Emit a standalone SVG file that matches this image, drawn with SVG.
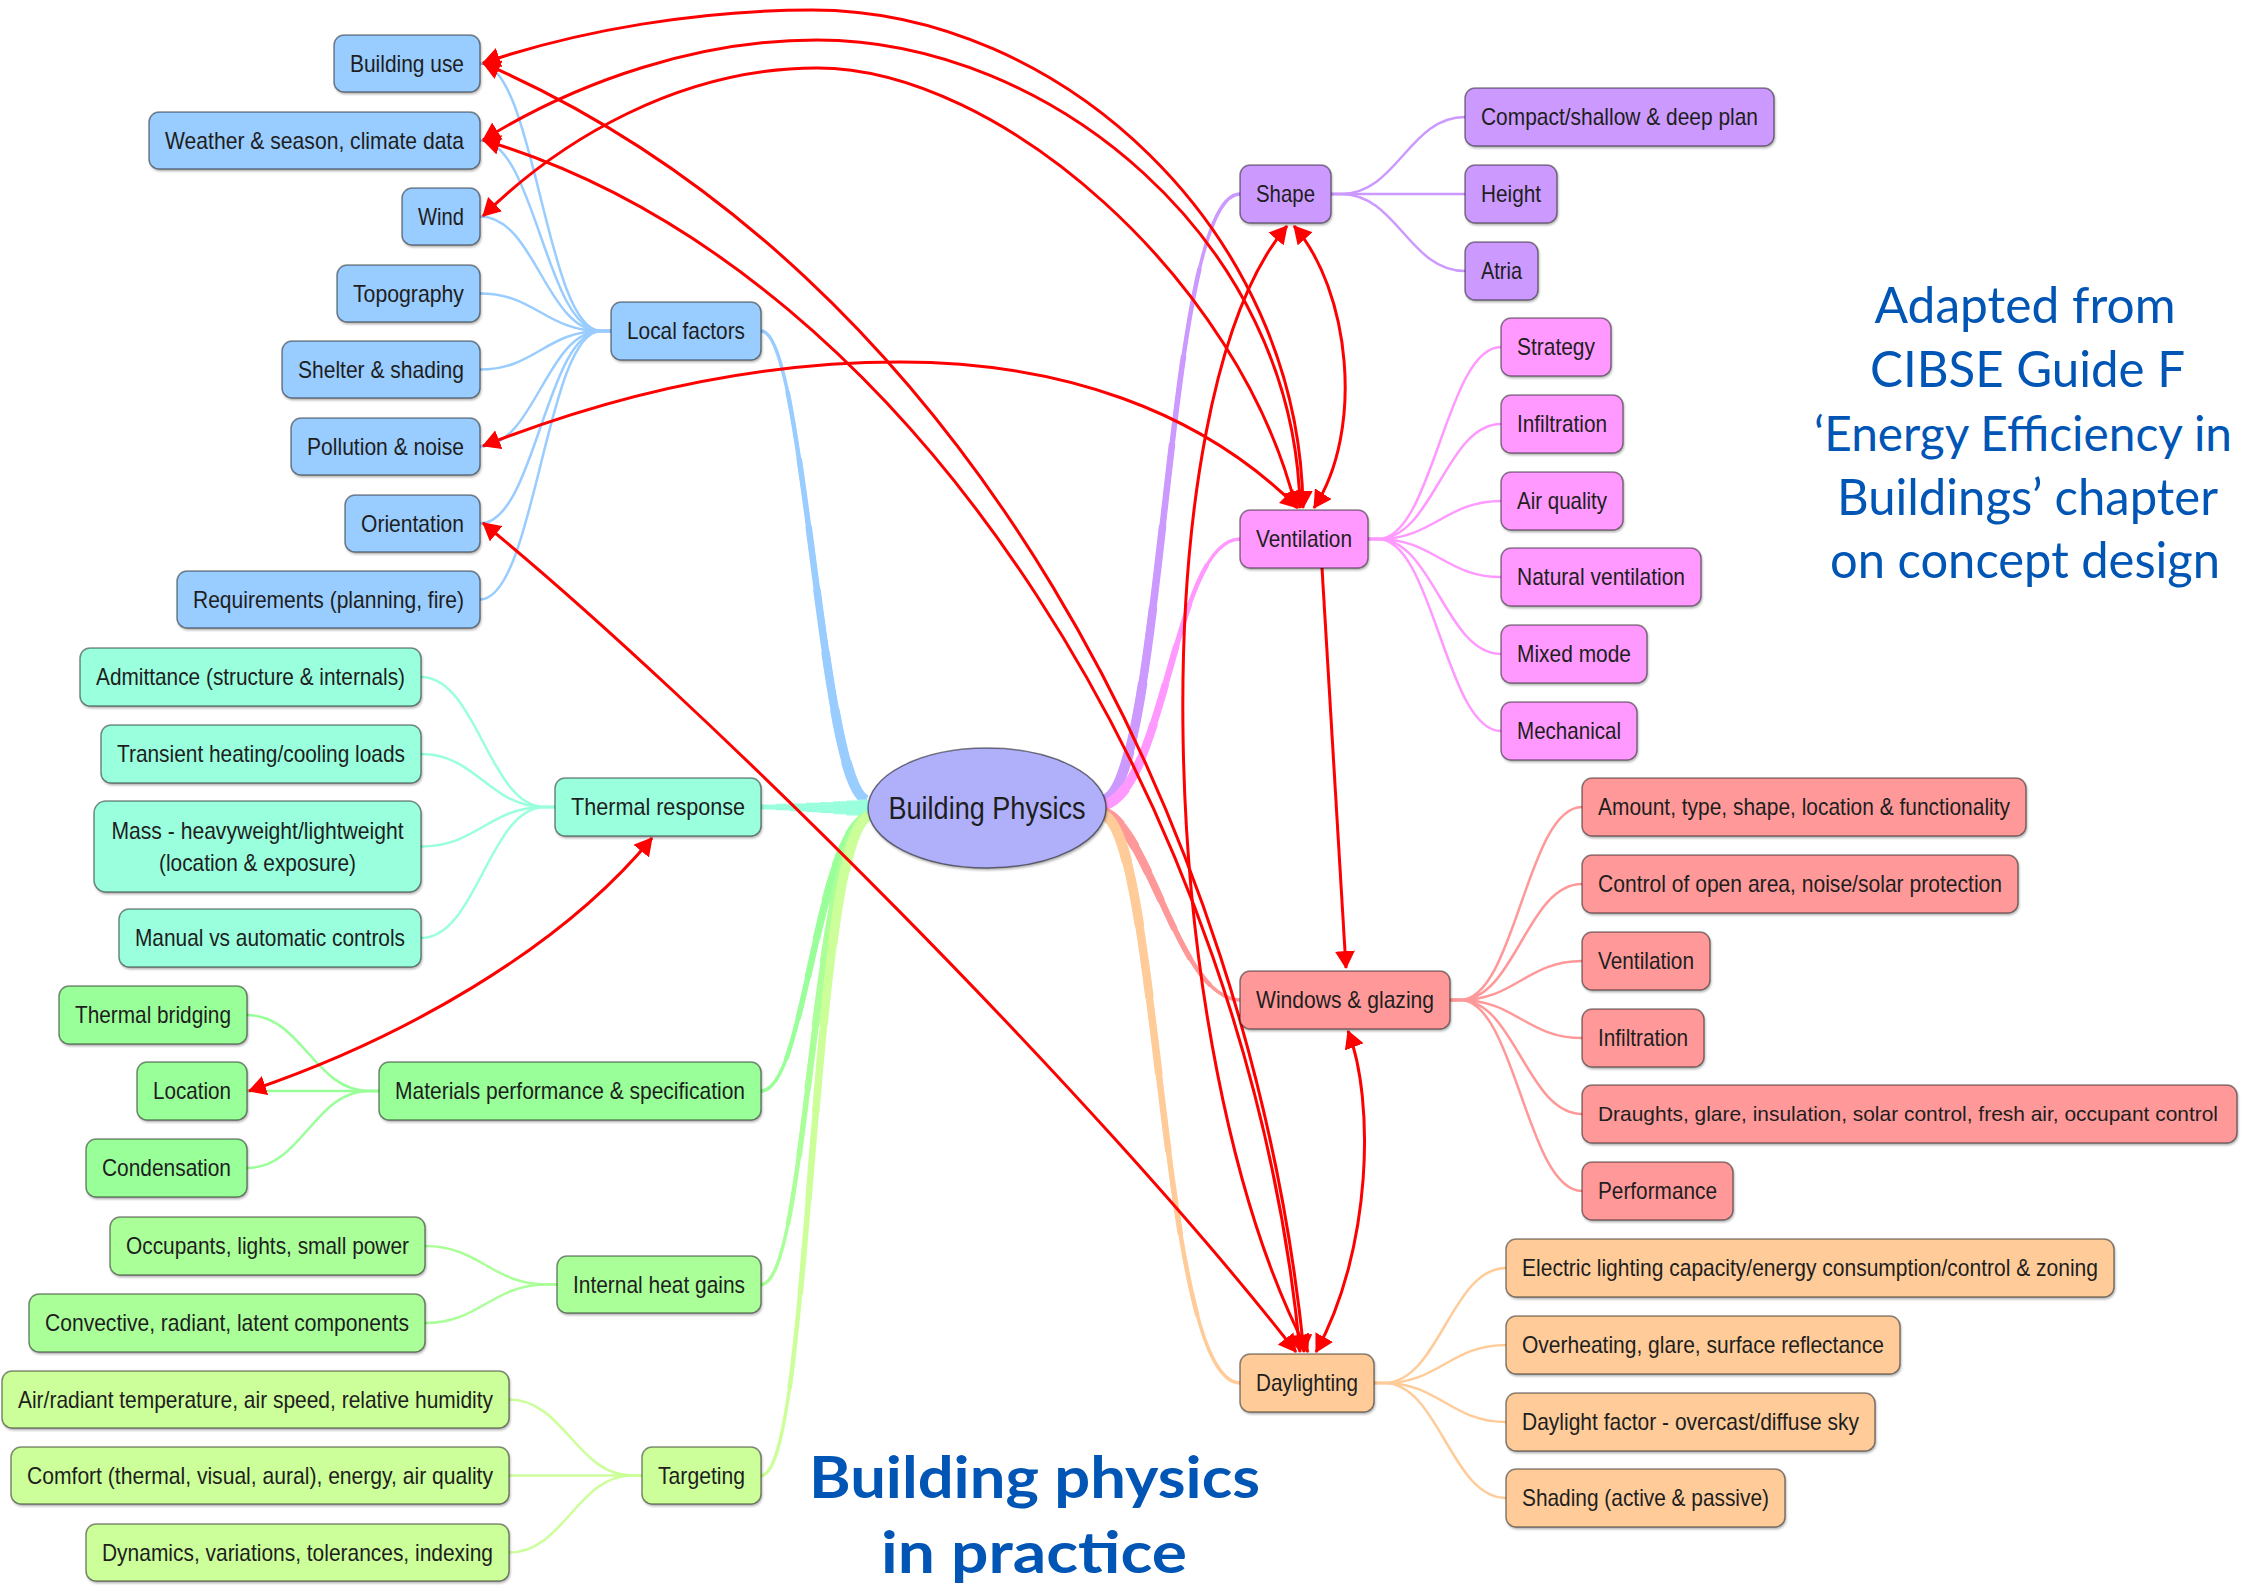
<svg xmlns="http://www.w3.org/2000/svg" xmlns:xlink="http://www.w3.org/1999/xlink" width="2246" height="1588" viewBox="0 0 2246 1588">
<style>
.nd rect{stroke:#000;stroke-opacity:.45;stroke-width:1.5;filter:url(#sh)}
.nd text{font-family:"Liberation Sans",Arial,sans-serif;font-size:24px;fill:#1e1e1e;text-anchor:middle}
.cb rect{fill:#99ccff}.ct rect{fill:#99ffdd}.cg rect{fill:#99ff99}.ci rect{fill:#aaff99}.cy rect{fill:#ccff99}
.cp rect{fill:#cc99ff}.cm rect{fill:#ff99ff}.cr rect{fill:#ff9999}.co rect{fill:#ffcc99}
.br path{fill:none;stroke-width:2.5}
.main use{fill:none}
.w1{stroke-width:3.5}
.w2{stroke-width:4.5;stroke-dasharray:86 300}
.w3{stroke-width:5.5;stroke-dasharray:72 300}
.w4{stroke-width:6.5;stroke-dasharray:58 300}
.w5{stroke-width:7.5;stroke-dasharray:45 300}
.w6{stroke-width:8.5;stroke-dasharray:32 300}
.w7{stroke-width:9.5;stroke-dasharray:20 300}
.w8{stroke-width:10.5;stroke-dasharray:9 300}
.big .w1{stroke-width:5}.big .w2{stroke-width:6.5}.big .w3{stroke-width:8}.big .w4{stroke-width:9.5}
.big .w5{stroke-width:11}.big .w6{stroke-width:13}.big .w7{stroke-width:15}.big .w8{stroke-width:17}
.lk path{fill:none;stroke:#ff0000;stroke-width:3}
.bi{marker-start:url(#ah);marker-end:url(#ah)}
.uni{marker-end:url(#ah)}
.tt{font-family:Lato,"Open Sans",sans-serif;fill:#0055b5;text-anchor:middle}
</style>
<defs>
<filter id="sh" x="-10%" y="-20%" width="120%" height="150%"><feDropShadow dx="1" dy="2" stdDeviation="1.2" flood-color="#000" flood-opacity="0.3"/></filter>
<marker id="ah" viewBox="0 0 18 20" refX="17" refY="10" markerWidth="18" markerHeight="20" markerUnits="userSpaceOnUse" orient="auto-start-reverse"><path d="M0,0 L18,10 L0,20 z" fill="#ff0000"/></marker>
<path id="m-lf" pathLength="100" d="M866,800 C820,780 805,331 761,331"/>
<path id="m-th" pathLength="100" d="M868,808 C830,808 800,807 761,807"/>
<path id="m-mp" pathLength="100" d="M868,816 C815,840 805,1091 761,1091"/>
<path id="m-ih" pathLength="100" d="M868,816 C812,845 808,1284.5 761,1284.5"/>
<path id="m-tg" pathLength="100" d="M868,816 C810,850 812,1475.5 761,1475.5"/>
<path id="m-sh" pathLength="100" d="M1104,800 C1165,780 1165,194 1240,194"/>
<path id="m-ve" pathLength="100" d="M1104,805 C1165,790 1175,539 1240,539"/>
<path id="m-wg" pathLength="100" d="M1104,812 C1150,830 1180,1000 1240,1000"/>
<path id="m-dl" pathLength="100" d="M1104,815 C1160,840 1160,1383 1240,1383"/>
</defs>
<rect width="2246" height="1588" fill="#ffffff"/>

<g id="branches">
<g class="main" stroke="#99ccff"><use href="#m-lf" class="w1"/><use href="#m-lf" class="w2"/><use href="#m-lf" class="w3"/><use href="#m-lf" class="w4"/><use href="#m-lf" class="w5"/><use href="#m-lf" class="w6"/><use href="#m-lf" class="w7"/><use href="#m-lf" class="w8"/></g>
<g class="main big" stroke="#99ffdd"><use href="#m-th" class="w1"/><use href="#m-th" class="w2"/><use href="#m-th" class="w3"/><use href="#m-th" class="w4"/><use href="#m-th" class="w5"/><use href="#m-th" class="w6"/><use href="#m-th" class="w7"/><use href="#m-th" class="w8"/></g>
<g class="main" stroke="#99ff99"><use href="#m-mp" class="w1"/><use href="#m-mp" class="w2"/><use href="#m-mp" class="w3"/><use href="#m-mp" class="w4"/><use href="#m-mp" class="w5"/><use href="#m-mp" class="w6"/><use href="#m-mp" class="w7"/><use href="#m-mp" class="w8"/></g>
<g class="main" stroke="#aaff99"><use href="#m-ih" class="w1"/><use href="#m-ih" class="w2"/><use href="#m-ih" class="w3"/><use href="#m-ih" class="w4"/><use href="#m-ih" class="w5"/><use href="#m-ih" class="w6"/><use href="#m-ih" class="w7"/><use href="#m-ih" class="w8"/></g>
<g class="main" stroke="#ccff99"><use href="#m-tg" class="w1"/><use href="#m-tg" class="w2"/><use href="#m-tg" class="w3"/><use href="#m-tg" class="w4"/><use href="#m-tg" class="w5"/><use href="#m-tg" class="w6"/><use href="#m-tg" class="w7"/><use href="#m-tg" class="w8"/></g>
<g class="main" stroke="#cc99ff"><use href="#m-sh" class="w1"/><use href="#m-sh" class="w2"/><use href="#m-sh" class="w3"/><use href="#m-sh" class="w4"/><use href="#m-sh" class="w5"/><use href="#m-sh" class="w6"/><use href="#m-sh" class="w7"/><use href="#m-sh" class="w8"/></g>
<g class="main" stroke="#ff99ff"><use href="#m-ve" class="w1"/><use href="#m-ve" class="w2"/><use href="#m-ve" class="w3"/><use href="#m-ve" class="w4"/><use href="#m-ve" class="w5"/><use href="#m-ve" class="w6"/><use href="#m-ve" class="w7"/><use href="#m-ve" class="w8"/></g>
<g class="main" stroke="#ff9999"><use href="#m-wg" class="w1"/><use href="#m-wg" class="w2"/><use href="#m-wg" class="w3"/><use href="#m-wg" class="w4"/><use href="#m-wg" class="w5"/><use href="#m-wg" class="w6"/><use href="#m-wg" class="w7"/><use href="#m-wg" class="w8"/></g>
<g class="main" stroke="#ffcc99"><use href="#m-dl" class="w1"/><use href="#m-dl" class="w2"/><use href="#m-dl" class="w3"/><use href="#m-dl" class="w4"/><use href="#m-dl" class="w5"/><use href="#m-dl" class="w6"/><use href="#m-dl" class="w7"/><use href="#m-dl" class="w8"/></g>

<g class="br" stroke="#99ccff">
<path d="M611,331 H601 C546,331 535,63.5 480,63.5"/>
<path d="M611,331 H601 C546,331 535,140.5 480,140.5"/>
<path d="M611,331 H601 C546,331 535,216.5 480,216.5"/>
<path d="M611,331 H601 C546,331 535,293.5 480,293.5"/>
<path d="M611,331 H601 C546,331 535,369.5 480,369.5"/>
<path d="M611,331 H601 C546,331 535,446.5 480,446.5"/>
<path d="M611,331 H601 C546,331 535,523.5 480,523.5"/>
<path d="M611,331 H601 C546,331 535,599.5 480,599.5"/>
</g>
<g class="br" stroke="#99ffdd">
<path d="M555,807 H545 C489,807 477,677 421,677"/>
<path d="M555,807 H545 C489,807 477,754 421,754"/>
<path d="M555,807 H545 C489,807 477,846.5 421,846.5"/>
<path d="M555,807 H545 C489,807 477,938 421,938"/>
</g>
<g class="br" stroke="#99ff99">
<path d="M379,1091 H369 C314,1091 302,1015 247,1015"/>
<path d="M379,1091 H247"/>
<path d="M379,1091 H369 C314,1091 302,1168 247,1168"/>
</g>
<g class="br" stroke="#aaff99">
<path d="M557,1284.5 H547 C492,1284.5 480,1246 425,1246"/>
<path d="M557,1284.5 H547 C492,1284.5 480,1323 425,1323"/>
</g>
<g class="br" stroke="#ccff99">
<path d="M642,1475.5 H632 C577,1475.5 564,1399.5 509,1399.5"/>
<path d="M642,1475.5 H509"/>
<path d="M642,1475.5 H632 C577,1475.5 564,1552.5 509,1552.5"/>
</g>
<g class="br" stroke="#cc99ff">
<path d="M1331,194 H1341 C1397,194 1409,117 1465,117"/>
<path d="M1331,194 H1465"/>
<path d="M1331,194 H1341 C1397,194 1409,271 1465,271"/>
</g>
<g class="br" stroke="#ff99ff">
<path d="M1368,539 H1378 C1433,539 1446,347 1501,347"/>
<path d="M1368,539 H1378 C1433,539 1446,424 1501,424"/>
<path d="M1368,539 H1378 C1433,539 1446,501 1501,501"/>
<path d="M1368,539 H1378 C1433,539 1446,577 1501,577"/>
<path d="M1368,539 H1378 C1433,539 1446,654 1501,654"/>
<path d="M1368,539 H1378 C1433,539 1446,731 1501,731"/>
</g>
<g class="br" stroke="#ff9999">
<path d="M1450,1000 H1460 C1515,1000 1527,807 1582,807"/>
<path d="M1450,1000 H1460 C1515,1000 1527,884 1582,884"/>
<path d="M1450,1000 H1460 C1515,1000 1527,961 1582,961"/>
<path d="M1450,1000 H1460 C1515,1000 1527,1038 1582,1038"/>
<path d="M1450,1000 H1460 C1515,1000 1527,1114 1582,1114"/>
<path d="M1450,1000 H1460 C1515,1000 1527,1191 1582,1191"/>
</g>
<g class="br" stroke="#ffcc99">
<path d="M1374,1383 H1384 C1439,1383 1451,1268 1506,1268"/>
<path d="M1374,1383 H1384 C1439,1383 1451,1345 1506,1345"/>
<path d="M1374,1383 H1384 C1439,1383 1451,1422 1506,1422"/>
<path d="M1374,1383 H1384 C1439,1383 1451,1498 1506,1498"/>
</g>
</g>

<g id="links" class="lk">
<path class="bi" d="M483,63 C580,30 700,10 812,10 C1060,10 1300,230 1303,508"/>
<path class="bi" d="M483,140 C580,80 700,40 817,40 C1050,40 1295,240 1300,508"/>
<path class="bi" d="M483,216 C560,140 680,68 817,68 C1000,68 1240,280 1296,508"/>
<path class="bi" d="M483,446 C620,392 760,362 900,362 C1060,362 1200,410 1298,508"/>
<path class="bi" d="M483,63 C960,270 1250,820 1304,1352"/>
<path class="bi" d="M483,140 C920,270 1250,820 1300,1352"/>
<path class="bi" d="M483,523 C700,700 1100,1100 1296,1352"/>
<path class="bi" d="M1287,226 C1140,400 1150,1050 1308,1352"/>
<path class="bi" d="M1294,226 C1350,290 1365,430 1314,508"/>
<path class="uni" d="M1322,568 L1346,968"/>
<path class="bi" d="M1348,1031 C1375,1100 1372,1250 1316,1352"/>
<path class="bi" d="M652,838 C560,950 400,1040 249,1091"/>
</g>

<g id="center">
<ellipse cx="987" cy="808" rx="119" ry="60" fill="#b0b0fa" stroke="#000" stroke-opacity=".5" stroke-width="1.5" filter="url(#sh)"/>
<text x="987" y="819" font-family="Liberation Sans, Arial, sans-serif" font-size="31" fill="#1e1e1e" text-anchor="middle" textLength="197" lengthAdjust="spacingAndGlyphs">Building Physics</text>
</g>

<g id="n-building-use" class="nd cb"><rect x="334" y="35" width="146" height="57" rx="10"/><text x="407" y="71.5" textLength="114" lengthAdjust="spacingAndGlyphs">Building use</text></g>
<g id="n-weather" class="nd cb"><rect x="149" y="112" width="331" height="57" rx="10"/><text x="314.5" y="148.5" textLength="299" lengthAdjust="spacingAndGlyphs">Weather &amp; season, climate data</text></g>
<g id="n-wind" class="nd cb"><rect x="402" y="188" width="78" height="57" rx="10"/><text x="441" y="224.5" textLength="46" lengthAdjust="spacingAndGlyphs">Wind</text></g>
<g id="n-topography" class="nd cb"><rect x="337" y="265" width="143" height="57" rx="10"/><text x="408.5" y="301.5" textLength="111" lengthAdjust="spacingAndGlyphs">Topography</text></g>
<g id="n-shelter" class="nd cb"><rect x="282" y="341" width="198" height="57" rx="10"/><text x="381" y="377.5" textLength="166" lengthAdjust="spacingAndGlyphs">Shelter &amp; shading</text></g>
<g id="n-pollution" class="nd cb"><rect x="291" y="418" width="189" height="57" rx="10"/><text x="385.5" y="454.5" textLength="157" lengthAdjust="spacingAndGlyphs">Pollution &amp; noise</text></g>
<g id="n-orientation" class="nd cb"><rect x="345" y="495" width="135" height="57" rx="10"/><text x="412.5" y="531.5" textLength="103" lengthAdjust="spacingAndGlyphs">Orientation</text></g>
<g id="n-requirements" class="nd cb"><rect x="177" y="571" width="303" height="57" rx="10"/><text x="328.5" y="607.5" textLength="271" lengthAdjust="spacingAndGlyphs">Requirements (planning, fire)</text></g>
<g id="n-local-factors" class="nd cb"><rect x="611" y="302" width="150" height="58" rx="10"/><text x="686" y="339" textLength="118" lengthAdjust="spacingAndGlyphs">Local factors</text></g>

<g id="n-admittance" class="nd ct"><rect x="80" y="648" width="341" height="58" rx="10"/><text x="250.5" y="685" textLength="309" lengthAdjust="spacingAndGlyphs">Admittance (structure &amp; internals)</text></g>
<g id="n-transient" class="nd ct"><rect x="101" y="725" width="320" height="58" rx="10"/><text x="261" y="762" textLength="288" lengthAdjust="spacingAndGlyphs">Transient heating/cooling loads</text></g>
<g id="n-mass" class="nd ct"><rect x="94" y="801" width="327" height="91" rx="12"/><text x="257.5" y="839" textLength="292" lengthAdjust="spacingAndGlyphs">Mass - heavyweight/lightweight</text><text x="257.5" y="871" textLength="197" lengthAdjust="spacingAndGlyphs">(location &amp; exposure)</text></g>
<g id="n-manual" class="nd ct"><rect x="119" y="909" width="302" height="58" rx="10"/><text x="270" y="946" textLength="270" lengthAdjust="spacingAndGlyphs">Manual vs automatic controls</text></g>
<g id="n-thermal-response" class="nd ct"><rect x="555" y="778" width="206" height="58" rx="10"/><text x="658" y="815" textLength="174" lengthAdjust="spacingAndGlyphs">Thermal response</text></g>

<g id="n-thermal-bridging" class="nd cg"><rect x="59" y="986" width="188" height="58" rx="10"/><text x="153" y="1023" textLength="156" lengthAdjust="spacingAndGlyphs">Thermal bridging</text></g>
<g id="n-location" class="nd cg"><rect x="137" y="1062" width="110" height="58" rx="10"/><text x="192" y="1099" textLength="78" lengthAdjust="spacingAndGlyphs">Location</text></g>
<g id="n-condensation" class="nd cg"><rect x="86" y="1139" width="161" height="58" rx="10"/><text x="166.5" y="1176" textLength="129" lengthAdjust="spacingAndGlyphs">Condensation</text></g>
<g id="n-materials" class="nd cg"><rect x="379" y="1062" width="382" height="58" rx="10"/><text x="570" y="1099" textLength="350" lengthAdjust="spacingAndGlyphs">Materials performance &amp; specification</text></g>

<g id="n-occupants" class="nd ci"><rect x="110" y="1217" width="315" height="58" rx="10"/><text x="267.5" y="1254" textLength="283" lengthAdjust="spacingAndGlyphs">Occupants, lights, small power</text></g>
<g id="n-convective" class="nd ci"><rect x="29" y="1294" width="396" height="58" rx="10"/><text x="227" y="1331" textLength="364" lengthAdjust="spacingAndGlyphs">Convective, radiant, latent components</text></g>
<g id="n-internal-gains" class="nd ci"><rect x="557" y="1256" width="204" height="57" rx="10"/><text x="659" y="1292.5" textLength="172" lengthAdjust="spacingAndGlyphs">Internal heat gains</text></g>

<g id="n-air-radiant" class="nd cy"><rect x="2" y="1371" width="507" height="57" rx="10"/><text x="255.5" y="1407.5" textLength="475" lengthAdjust="spacingAndGlyphs">Air/radiant temperature, air speed, relative humidity</text></g>
<g id="n-comfort" class="nd cy"><rect x="11" y="1447" width="498" height="57" rx="10"/><text x="260" y="1483.5" textLength="466" lengthAdjust="spacingAndGlyphs">Comfort (thermal, visual, aural), energy, air quality</text></g>
<g id="n-dynamics" class="nd cy"><rect x="86" y="1524" width="423" height="57" rx="10"/><text x="297.5" y="1560.5" textLength="391" lengthAdjust="spacingAndGlyphs">Dynamics, variations, tolerances, indexing</text></g>
<g id="n-targeting" class="nd cy"><rect x="642" y="1447" width="119" height="57" rx="10"/><text x="701.5" y="1483.5" textLength="87" lengthAdjust="spacingAndGlyphs">Targeting</text></g>

<g id="n-shape" class="nd cp"><rect x="1240" y="165" width="91" height="58" rx="10"/><text x="1285.5" y="202" textLength="59" lengthAdjust="spacingAndGlyphs">Shape</text></g>
<g id="n-compact" class="nd cp"><rect x="1465" y="88" width="309" height="58" rx="10"/><text x="1619.5" y="125" textLength="277" lengthAdjust="spacingAndGlyphs">Compact/shallow &amp; deep plan</text></g>
<g id="n-height" class="nd cp"><rect x="1465" y="165" width="92" height="58" rx="10"/><text x="1511" y="202" textLength="60" lengthAdjust="spacingAndGlyphs">Height</text></g>
<g id="n-atria" class="nd cp"><rect x="1465" y="242" width="73" height="58" rx="10"/><text x="1501.5" y="279" textLength="41" lengthAdjust="spacingAndGlyphs">Atria</text></g>

<g id="n-ventilation" class="nd cm"><rect x="1240" y="510" width="128" height="58" rx="10"/><text x="1304" y="547" textLength="96" lengthAdjust="spacingAndGlyphs">Ventilation</text></g>
<g id="n-strategy" class="nd cm"><rect x="1501" y="318" width="110" height="58" rx="10"/><text x="1556" y="355" textLength="78" lengthAdjust="spacingAndGlyphs">Strategy</text></g>
<g id="n-infiltration-v" class="nd cm"><rect x="1501" y="395" width="122" height="58" rx="10"/><text x="1562" y="432" textLength="90" lengthAdjust="spacingAndGlyphs">Infiltration</text></g>
<g id="n-air-quality" class="nd cm"><rect x="1501" y="472" width="122" height="58" rx="10"/><text x="1562" y="509" textLength="90" lengthAdjust="spacingAndGlyphs">Air quality</text></g>
<g id="n-natural" class="nd cm"><rect x="1501" y="548" width="200" height="58" rx="10"/><text x="1601" y="585" textLength="168" lengthAdjust="spacingAndGlyphs">Natural ventilation</text></g>
<g id="n-mixed" class="nd cm"><rect x="1501" y="625" width="146" height="58" rx="10"/><text x="1574" y="662" textLength="114" lengthAdjust="spacingAndGlyphs">Mixed mode</text></g>
<g id="n-mechanical" class="nd cm"><rect x="1501" y="702" width="136" height="58" rx="10"/><text x="1569" y="739" textLength="104" lengthAdjust="spacingAndGlyphs">Mechanical</text></g>

<g id="n-windows" class="nd cr"><rect x="1240" y="971" width="210" height="58" rx="10"/><text x="1345" y="1008" textLength="178" lengthAdjust="spacingAndGlyphs">Windows &amp; glazing</text></g>
<g id="n-amount" class="nd cr"><rect x="1582" y="778" width="444" height="58" rx="10"/><text x="1804" y="815" textLength="412" lengthAdjust="spacingAndGlyphs">Amount, type, shape, location &amp; functionality</text></g>
<g id="n-control" class="nd cr"><rect x="1582" y="855" width="436" height="58" rx="10"/><text x="1800" y="892" textLength="404" lengthAdjust="spacingAndGlyphs">Control of open area, noise/solar protection</text></g>
<g id="n-ventilation-w" class="nd cr"><rect x="1582" y="932" width="128" height="58" rx="10"/><text x="1646" y="969" textLength="96" lengthAdjust="spacingAndGlyphs">Ventilation</text></g>
<g id="n-infiltration-w" class="nd cr"><rect x="1582" y="1009" width="122" height="58" rx="10"/><text x="1643" y="1046" textLength="90" lengthAdjust="spacingAndGlyphs">Infiltration</text></g>
<g id="n-draughts" class="nd cr"><rect x="1582" y="1085" width="655" height="58" rx="10"/><text x="1908" y="1121" style="font-size:21px" textLength="620" lengthAdjust="spacingAndGlyphs">Draughts, glare, insulation, solar control, fresh air, occupant control</text></g>
<g id="n-performance" class="nd cr"><rect x="1582" y="1162" width="151" height="58" rx="10"/><text x="1657.5" y="1199" textLength="119" lengthAdjust="spacingAndGlyphs">Performance</text></g>

<g id="n-daylighting" class="nd co"><rect x="1240" y="1354" width="134" height="58" rx="10"/><text x="1307" y="1391" textLength="102" lengthAdjust="spacingAndGlyphs">Daylighting</text></g>
<g id="n-electric" class="nd co"><rect x="1506" y="1239" width="608" height="58" rx="10"/><text x="1810" y="1276" textLength="576" lengthAdjust="spacingAndGlyphs">Electric lighting capacity/energy consumption/control &amp; zoning</text></g>
<g id="n-overheating" class="nd co"><rect x="1506" y="1316" width="394" height="58" rx="10"/><text x="1703" y="1353" textLength="362" lengthAdjust="spacingAndGlyphs">Overheating, glare, surface reflectance</text></g>
<g id="n-daylight-factor" class="nd co"><rect x="1506" y="1393" width="369" height="58" rx="10"/><text x="1690.5" y="1430" textLength="337" lengthAdjust="spacingAndGlyphs">Daylight factor - overcast/diffuse sky</text></g>
<g id="n-shading" class="nd co"><rect x="1506" y="1469" width="279" height="58" rx="10"/><text x="1645.5" y="1506" textLength="247" lengthAdjust="spacingAndGlyphs">Shading (active &amp; passive)</text></g>

<g id="title">
<text class="tt" x="1034.5" y="1498" font-size="58" font-weight="bold" textLength="451" lengthAdjust="spacingAndGlyphs">Building physics</text>
<text class="tt" x="1034" y="1573" font-size="58" font-weight="bold" textLength="306" lengthAdjust="spacingAndGlyphs">in practice</text>
</g>
<g id="source-note">
<text class="tt" x="2025" y="323" font-size="50" textLength="301" lengthAdjust="spacingAndGlyphs">Adapted from</text>
<text class="tt" x="2027.5" y="387" font-size="50" textLength="315" lengthAdjust="spacingAndGlyphs">CIBSE Guide F</text>
<text class="tt" x="2023" y="451" font-size="48" textLength="418" lengthAdjust="spacingAndGlyphs">‘Energy Efficiency in</text>
<text class="tt" x="2027.5" y="515" font-size="50" textLength="381" lengthAdjust="spacingAndGlyphs">Buildings’ chapter</text>
<text class="tt" x="2025" y="578" font-size="50" textLength="390" lengthAdjust="spacingAndGlyphs">on concept design</text>
</g>
</svg>
